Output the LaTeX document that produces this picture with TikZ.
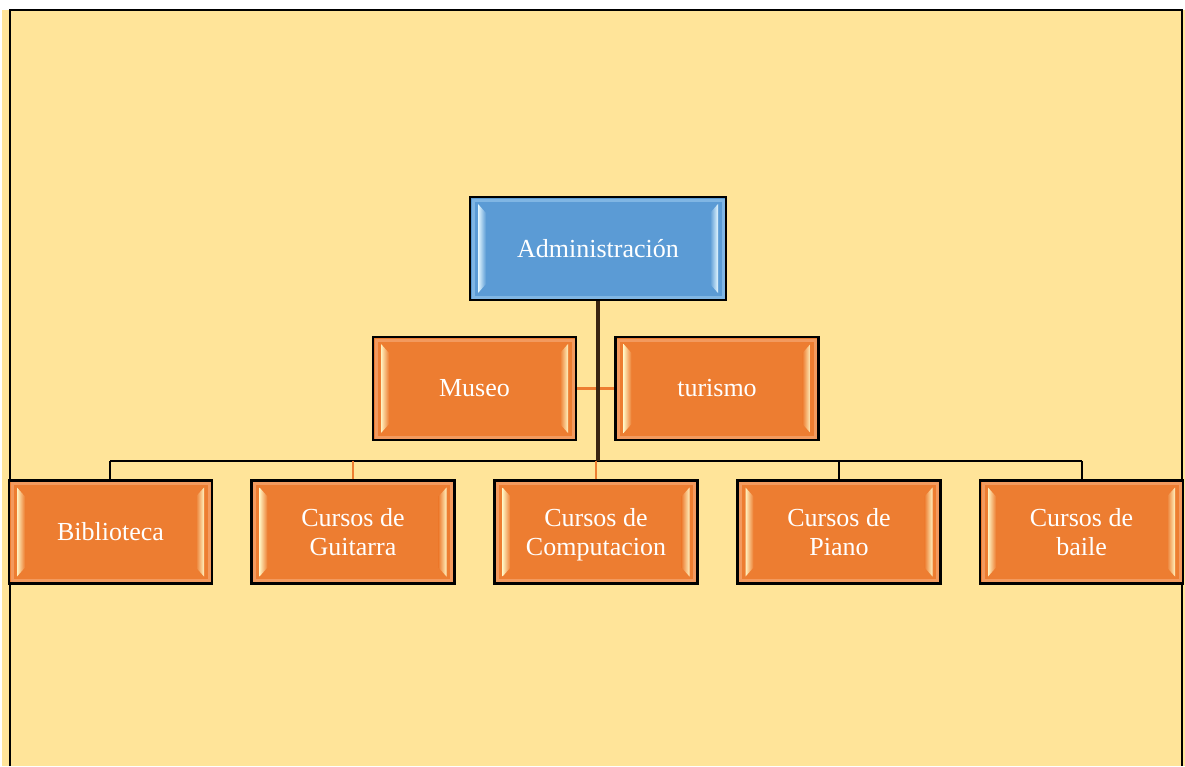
\documentclass[tikz,border=0pt]{standalone}
\usepackage{fontspec}
\setmainfont{Liberation Serif}
\usetikzlibrary{calc}
\definecolor{bgyellow}{HTML}{FFE499}
\definecolor{orfill}{HTML}{ED7D31}
\definecolor{orlight}{HTML}{F39A5E}
\definecolor{orpale}{HTML}{FFF2C0}
\definecolor{blfill}{HTML}{5B9BD5}
\definecolor{bllight}{HTML}{80B6E4}
\definecolor{blpale}{HTML}{E4F7FF}
\definecolor{stem}{HTML}{3A2410}
\newcommand\mybevel[3]{%
  \path (path picture bounding box.north west) coordinate (nw)
        (path picture bounding box.south east) coordinate (se);
  \draw[#2, line width=3pt] ($(nw)+(3,3)$) rectangle ($(se)+(-3,-3)$);
  \shade[left color=#1, right color=#3]
    ($(nw)+(8,7)$) -- ($(nw)+(16,16)$) -- ($(nw|-se)+(16,-16)$) -- ($(nw|-se)+(8,-7)$) -- cycle;
  \shade[left color=#3, right color=#1]
    ($(se|-nw)+(-8,7)$) -- ($(se|-nw)+(-16,16)$) -- ($(se)+(-16,-16)$) -- ($(se)+(-8,-7)$) -- cycle;
}
\tikzset{
  x=1pt, y=-1pt,
  box/.style={draw=black, line width=2.2pt, fill=orfill, minimum width=203pt,
    minimum height=103pt, inner sep=0pt, align=center, text=white,
    font=\fontsize{26}{28.5}\selectfont,
    path picture={\mybevel{orpale}{orlight}{orfill}}},
  bluebox/.style={box, fill=blfill, minimum width=256pt,
    path picture={\mybevel{blpale}{bllight}{blfill}}},
  blackline/.style={draw=black, line width=2.4pt},
  orline/.style={draw=orfill, line width=2.2pt},
  stemline/.style={draw=stem, line width=3.4pt},
  frameline/.style={draw=black, line width=2pt},
}
\begin{document}
\begin{tikzpicture}
\useasboundingbox (0,0) rectangle (1185,766);
\fill[white] (0,0) rectangle (1185,766);
\fill[bgyellow] (2,10) rectangle (1185,766);
\draw[frameline] (10,766) -- (10,10) -- (1182,10) -- (1182,766);

\coordinate (busL) at (110,461);
\coordinate (busR) at (1082,461);

\node[bluebox] (admin) at (598,248.5) {Administración};
\node[box] (museo) at (474.5,388.5) {Museo};
\node[box] (turismo) at (717,388.5) {turismo};

\node[box] (bib) at (110.5,532) {Biblioteca};
\node[box] (gui) at (353,532) {Cursos de\\Guitarra};
\node[box] (comp) at (596,532) {Cursos de\\Com\smash{p}utacion};
\node[box] (piano) at (839,532) {Cursos de\\Piano};
\node[box] (baile) at (1081.5,532) {Cursos de\\baile};

\path[orline] (museo.east) -- (turismo.west);
\path[blackline] (busL) -- (busR);
\path[blackline] (busL) -- (bib.north -| busL);
\path[orline] (gui.north) -- (gui.north |- busL);
\path[orline] (comp.north) -- (comp.north |- busL);
\path[blackline] (piano.north) -- (piano.north |- busL);
\path[blackline] (busR) -- (baile.north -| busR);
\path[stemline] (admin.south) -- (admin.south |- busL);
\end{tikzpicture}
\end{document}
